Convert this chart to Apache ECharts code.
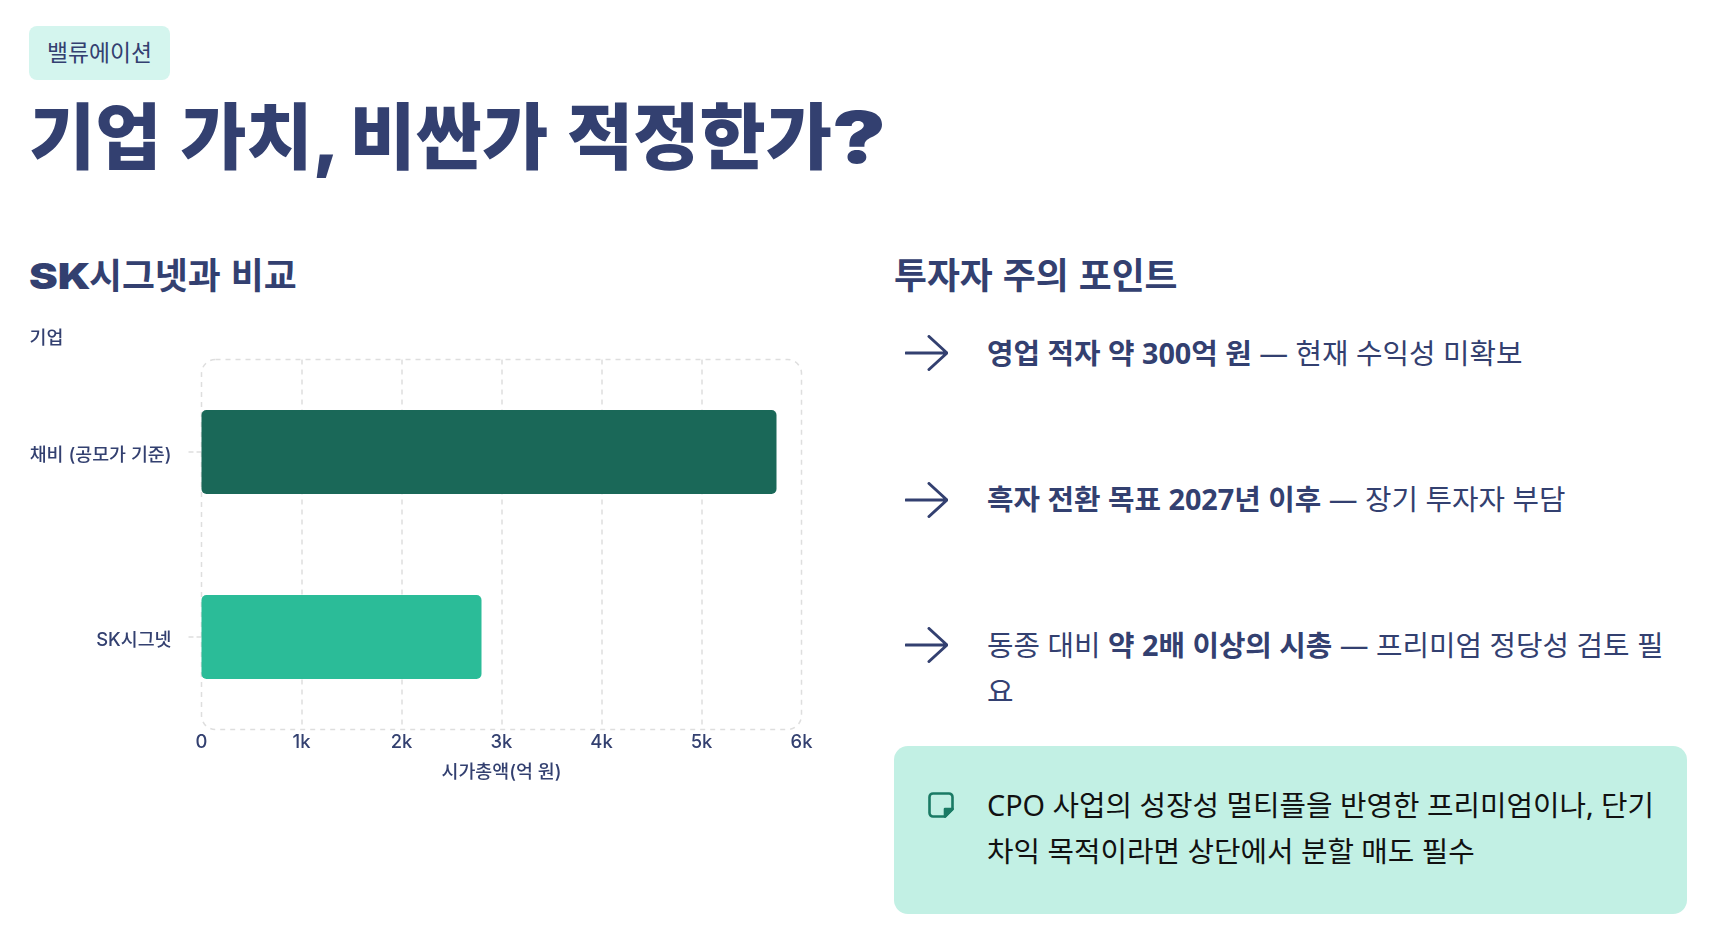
<!DOCTYPE html>
<html lang="ko"><head><meta charset="utf-8">
<script src="https://cdn.jsdelivr.net/npm/echarts@6/dist/echarts.min.js"></script>
<style>
html,body{margin:0;padding:0;background:#fff;width:1710px;height:934px;overflow:hidden}
body{position:relative;font-family:"Noto Sans","Noto Sans CJK KR",sans-serif;color:#334070}
.abs{position:absolute;white-space:nowrap}
#badge{left:29px;top:26px;width:141px;height:54px;border-radius:8px;background:#d4f5ee;font:400 22.8px/52px "Noto Sans CJK KR",sans-serif;text-align:center;color:#334070}
#title{left:29px;top:89px;font:900 72px/96px Inter,"Noto Sans CJK KR",sans-serif;word-spacing:4.4px;color:#334070}
#title .c{margin-right:-8.8px}
#title .q{display:inline-block;transform:scaleX(1.25);transform-origin:left;word-spacing:0}
.h2{font:700 35.8px/50px "Noto Sans CJK KR",sans-serif;top:248px;color:#334070}
.sk{display:inline-block;width:60px}
.sk span{display:inline-block;font:900 36px/50px Inter,sans-serif;transform:scaleX(1.2);transform-origin:left}
#chart{left:0;top:320px;width:860px;height:480px}
.row{left:987px;width:690px;white-space:normal;font:400 28.8px/46px "Noto Sans","Noto Sans CJK KR",sans-serif;color:#334070}
.row b{font-weight:700}
.arrow{left:905px;width:43px;height:36px}
#note{left:894px;top:746px;width:793px;height:168px;border-radius:14px;background:#c2f0e4}
#noteText{left:987px;top:782px;width:690px;white-space:normal;font:400 28.8px/46px "Noto Sans","Noto Sans CJK KR",sans-serif;color:#111}
#noteIcon{left:927px;top:791px;width:28px;height:28px}
</style></head><body>
<div class="abs" id="badge">밸류에이션</div>
<div class="abs" id="title">기업 가치<span class="c">,</span> 비싼가 적정한가<span class="q">?</span></div>
<div class="abs h2" style="left:29px"><span class="sk"><span>SK</span></span>시그넷과 비교</div>
<div class="abs h2" style="left:894px">투자자 주의 포인트</div>
<div class="abs" id="chart"></div>
<svg class="abs arrow" style="top:335px" viewBox="0 0 43 36" fill="none" stroke="#334070" stroke-width="3" stroke-linecap="round" stroke-linejoin="round"><path d="M1 18H41M24 1.5L42 18L24 34.5"/></svg>
<div class="abs row" style="top:330px"><b>영업 적자 약 300억 원</b> — 현재 수익성 미확보</div>
<svg class="abs arrow" style="top:482px" viewBox="0 0 43 36" fill="none" stroke="#334070" stroke-width="3" stroke-linecap="round" stroke-linejoin="round"><path d="M1 18H41M24 1.5L42 18L24 34.5"/></svg>
<div class="abs row" style="top:476px"><b>흑자 전환 목표 2027년 이후</b> — 장기 투자자 부담</div>
<svg class="abs arrow" style="top:627px" viewBox="0 0 43 36" fill="none" stroke="#334070" stroke-width="3" stroke-linecap="round" stroke-linejoin="round"><path d="M1 18H41M24 1.5L42 18L24 34.5"/></svg>
<div class="abs row" style="top:622px">동종 대비 <b>약 2배 이상의 시총</b> — 프리미엄 정당성 검토 필요</div>
<div class="abs" id="note"></div>
<svg class="abs" id="noteIcon" viewBox="0 0 28 28" fill="none" stroke="#1a7a64" stroke-width="2.6" stroke-linejoin="round"><path d="M6 2.5H22A3.5 3.5 0 0 1 25.5 6V18L18 25.5H6A3.5 3.5 0 0 1 2.5 22V6A3.5 3.5 0 0 1 6 2.5Z"/><path d="M25.5 18L18 25.5V18Z" fill="#1a7a64"/></svg>
<div class="abs" id="noteText">CPO 사업의 성장성 멀티플을 반영한 프리미엄이나, 단기 차익 목적이라면 상단에서 분할 매도 필수</div>
<script>
const categories = ['채비 (공모가 기준)', 'SK시그넷'];
const marketCap = [5750, 2800];
const barColors = ['#1a6858', '#2bbc98'];
const xTicks = [0, 1000, 2000, 3000, 4000, 5000, 6000];
const axisFont = 'Inter, "Noto Sans CJK KR", sans-serif';
const ink = '#334070';
const chart = echarts.init(document.getElementById('chart'), null, {renderer:'canvas'});
const option = {
  animation:false,
  grid:{left:201.5,top:39.5,width:600,height:370},
  xAxis:{type:'value',min:xTicks[0],max:xTicks[xTicks.length-1],interval:1000,
    name:'시가총액(억 원)',nameLocation:'middle',nameGap:34,
    nameTextStyle:{color:ink,fontSize:18.4,fontWeight:500,fontFamily:axisFont},
    axisLine:{show:false},axisTick:{show:false},
    axisLabel:{color:ink,fontSize:18.4,fontWeight:500,fontFamily:axisFont,margin:4,
      formatter:v=>v===0?'0':(v/1000)+'k'},
    splitLine:{show:true,showMinLine:false,showMaxLine:false,lineStyle:{color:'#dedede',width:1.5,type:[5,5]}}},
  yAxis:{type:'category',data:categories,inverse:true,offset:11,
    name:'기업',nameLocation:'start',nameGap:12,
    nameTextStyle:{color:ink,fontSize:18.4,fontWeight:500,fontFamily:axisFont,align:'left',padding:[0,0,0,-172]},
    axisLine:{show:false},
    axisTick:{show:true,alignWithLabel:true,length:13,lineStyle:{color:'#dedede',width:1.5,type:[5,3]}},
    axisLabel:{color:ink,fontSize:18.4,fontWeight:500,fontFamily:axisFont,margin:19,verticalAlign:'top',lineHeight:6}},
  series:[{type:'bar',barWidth:84,
    data:marketCap.map((v,i)=>({value:v,itemStyle:{color:barColors[i],borderRadius:5}}))}]
};
chart.setOption(option);
const px0=chart.convertToPixel({xAxisIndex:0},xTicks[0]), px1=chart.convertToPixel({xAxisIndex:0},xTicks[xTicks.length-1]);
const g=option.grid;
chart.setOption({graphic:[{type:'rect',silent:true,z:0,shape:{x:px0,y:g.top,width:px1-px0,height:g.height,r:14},
  style:{fill:'none',stroke:'#dedede',lineWidth:1.5,lineDash:[5,5]}}]});
</script>
</body></html>
